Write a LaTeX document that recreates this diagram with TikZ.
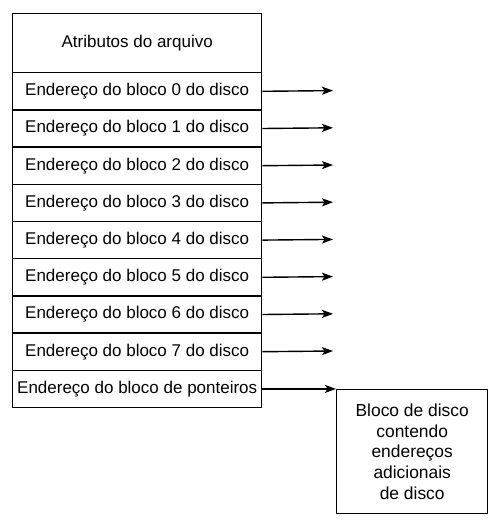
\documentclass[tikz,border=0pt]{standalone}
\usepackage{fontspec}
\setmainfont{Liberation Sans}
\usetikzlibrary{arrows.meta}
\begin{document}
\begin{tikzpicture}[x=1pt,y=-1pt,
  cell/.style={draw,line width=1.4pt,minimum width=249pt,minimum height=37.2pt,inner sep=0pt,font=\fontsize{17}{20}\selectfont,anchor=north west},
  ptr/.style={line width=1.4pt,-{Stealth[length=11pt,width=8pt,inset=2.5pt]}},
  blk/.style={draw,line width=1.4pt,minimum width=151pt,minimum height=124pt,inner sep=0pt,align=center,anchor=north west,font=\fontsize{17.4}{20.7}\selectfont}]
\useasboundingbox (0,0) rectangle (495,523);
\node[cell,minimum height=59pt] (attr) at (12,13) {Atributos do arquivo};
\foreach \i in {0,...,7}{
  \node[cell] (r\i) at (12,72+\i*37.2) {Endereço do bloco \i\ do disco};
  \coordinate (t\i) at (333,90.6+\i*37.2);
  \draw[ptr] (r\i.east) -- (t\i);
}
\node[cell] (rp) at (12,72+8*37.2) {Endereço do bloco de ponteiros};
\node[blk] (blk) at (336,389) {Bloco de disco\\contendo\\endereços\\adicionais\\de disco};
\draw[ptr] (rp.east) -- (rp.east -| blk.west);
\end{tikzpicture}
\end{document}
